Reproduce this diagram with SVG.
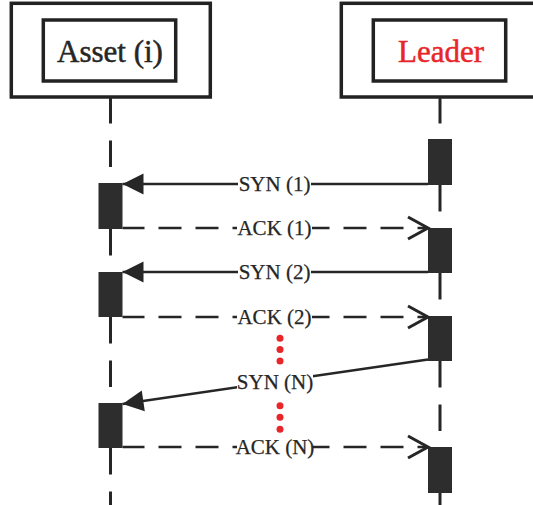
<svg xmlns="http://www.w3.org/2000/svg" width="533" height="505" viewBox="0 0 533 505">
  <style>
    .frame { fill: #ffffff; stroke: #222222; stroke-width: 3.5; }
    .title { font-family: "Liberation Serif", "DejaVu Serif", serif; font-size: 31px; text-anchor: middle; fill: #262626; stroke: #262626; stroke-width: 0.5; }
    .lifeline { stroke: #262626; stroke-width: 3; stroke-dasharray: 26.5 17; fill: none; }
    .act { fill: #2d2d2d; }
    .syn { stroke: #262626; stroke-width: 2.5; fill: none; marker-end: url(#filled); }
    .ack { stroke: #262626; stroke-width: 2.5; fill: none; stroke-dasharray: 23 14; stroke-dashoffset: 1; marker-end: url(#open); }
    .lbl { font-family: "Liberation Serif", "DejaVu Serif", serif; font-size: 21px; text-anchor: middle; fill: #262626; stroke: #262626; stroke-width: 0.25; }
    .bg { fill: #ffffff; }
    .dot { fill: #e8262a; }
  </style>
  <defs>
    <marker id="filled" markerUnits="userSpaceOnUse" markerWidth="22" markerHeight="22" refX="21" refY="10.5" orient="auto" overflow="visible">
      <path d="M0,0 L21,10.5 L0,21 z" fill="#262626"/>
    </marker>
    <marker id="open" markerUnits="userSpaceOnUse" markerWidth="22" markerHeight="24" refX="20" refY="11" orient="auto" overflow="visible">
      <path d="M0,0 L20,11 L0,22" fill="none" stroke="#262626" stroke-width="3"/>
    </marker>
  </defs>

  <g id="asset">
    <rect class="frame" x="11.3" y="3.3" width="199" height="93.7"/>
    <rect class="frame" x="43.3" y="20" width="132.4" height="61"/>
    <text class="title" x="110" y="62">Asset (i)</text>
    <line class="lifeline" x1="110.5" y1="97" x2="110.5" y2="183"/>
    <line class="lifeline" x1="110.5" y1="229" x2="110.5" y2="272"/>
    <line class="lifeline" x1="110.5" y1="317" x2="110.5" y2="403"/>
    <line class="lifeline" x1="110.5" y1="448" x2="110.5" y2="505"/>
    <rect class="act" x="98.5" y="183" width="24" height="46"/>
    <rect class="act" x="98.5" y="272" width="24" height="45"/>
    <rect class="act" x="98.5" y="403" width="24" height="45"/>
  </g>

  <g id="leader">
    <rect class="frame" x="341.3" y="3.3" width="199" height="93.7"/>
    <rect class="frame" x="373.3" y="20" width="132.4" height="61"/>
    <text class="title" x="441" y="62" style="fill:#e8262a;stroke:#e8262a">Leader</text>
    <line class="lifeline" x1="440" y1="97" x2="440" y2="139"/>
    <line class="lifeline" x1="440" y1="185" x2="440" y2="228"/>
    <line class="lifeline" x1="440" y1="273" x2="440" y2="316"/>
    <line class="lifeline" x1="440" y1="361" x2="440" y2="447"/>
    <line class="lifeline" x1="440" y1="493" x2="440" y2="505"/>
    <rect class="act" x="428" y="139" width="24" height="46"/>
    <rect class="act" x="428" y="228" width="24" height="45"/>
    <rect class="act" x="428" y="316" width="24" height="45"/>
    <rect class="act" x="428" y="447" width="24" height="46"/>
  </g>

  <g id="connectors">
    <path class="syn" d="M428,184 L122.5,184"/>
    <rect class="bg" x="238" y="174" width="73" height="20"/>
    <text class="lbl" x="274.5" y="191">SYN (1)</text>

    <path class="ack" d="M122.5,228 L428,228"/>
    <rect class="bg" x="237" y="218" width="75" height="20"/>
    <text class="lbl" x="274.5" y="235">ACK (1)</text>

    <path class="syn" d="M428,272 L122.5,272"/>
    <rect class="bg" x="238" y="262" width="73" height="20"/>
    <text class="lbl" x="274.5" y="279">SYN (2)</text>

    <path class="ack" d="M122.5,317 L428,317"/>
    <rect class="bg" x="237" y="307" width="75" height="20"/>
    <text class="lbl" x="274.5" y="324">ACK (2)</text>

    <path class="syn" d="M428,359.5 L122.5,404"/>
    <rect class="bg" x="237" y="372" width="76" height="20"/>
    <text class="lbl" x="275" y="389">SYN (N)</text>

    <path class="ack" d="M122.5,447 L428,447"/>
    <rect class="bg" x="237" y="437" width="76" height="20"/>
    <text class="lbl" x="275" y="454">ACK (N)</text>

    <circle class="dot" cx="280" cy="338.3" r="3.5"/>
    <circle class="dot" cx="280" cy="349.5" r="3.5"/>
    <circle class="dot" cx="280" cy="361" r="3.5"/>
    <circle class="dot" cx="280" cy="405.7" r="3.5"/>
    <circle class="dot" cx="280" cy="417.3" r="3.5"/>
    <circle class="dot" cx="280" cy="429.3" r="3.5"/>
  </g>
</svg>
